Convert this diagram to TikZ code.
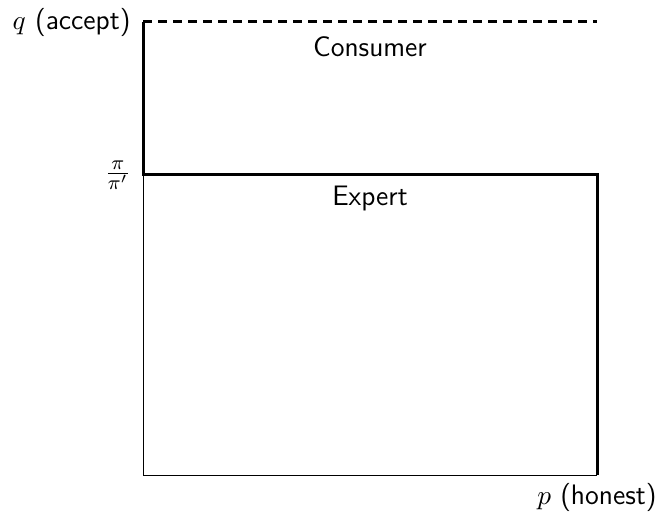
\documentclass[tikz,border=0pt]{standalone}
\begin{document}
\begin{tikzpicture}[x=0.4bp,y=-0.4bp,
  thinline/.style={line width=0.4bp},
  thickline/.style={line width=1.2bp},
  lbl/.style={inner sep=0pt,font=\fontsize{11.3}{13}\sffamily}]
\useasboundingbox (0,0) rectangle (660,516);
\coordinate (O) at (143,475);
\coordinate (L) at (143,175);
\coordinate (T) at (143,22);
\coordinate (TR) at (597,22);
\coordinate (R) at (597,175);
\coordinate (BR) at (597,475);
\draw[thinline] (L) -- (O) -- (BR);
\draw[thickline] (T) -- (L) -- (R) -- (BR);
\draw[thickline,dash pattern=on 3.6bp off 2.4bp] (T) -- (TR);
\node[lbl,anchor=east] (qlab) at (131,22) {$q$ (accept)};
\node[lbl,anchor=east] (frac) at (131,175) {$\frac{\pi}{\pi'}$};
\node[lbl,anchor=east] (plab) at (657,497) {$p$ (honest)};
\node[lbl] (cons) at (370,47) {Consumer};
\node[lbl] (exp) at (370,198) {Expert};
\end{tikzpicture}
\end{document}
